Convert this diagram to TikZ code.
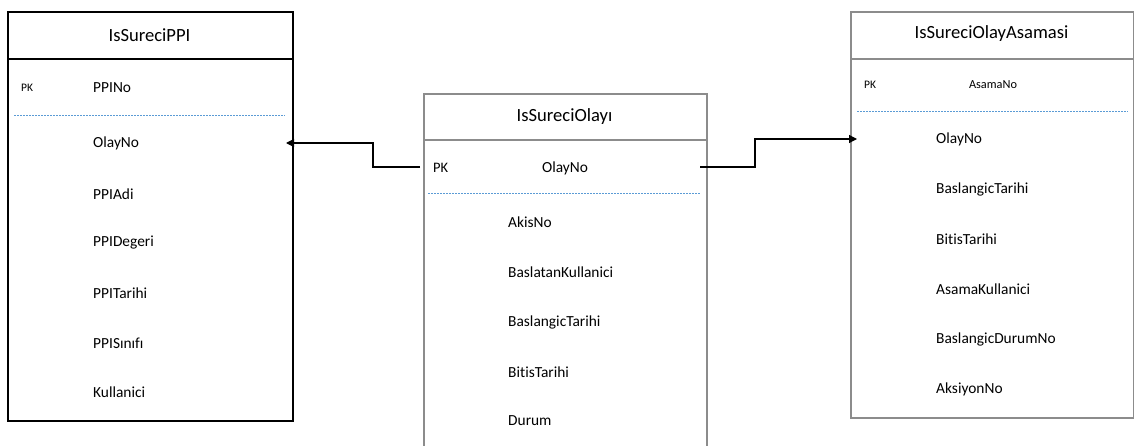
\documentclass[tikz,border=0pt]{standalone}
\usepackage{fontspec}
\setmainfont{Carlito}[Ligatures=NoCommon]
\usetikzlibrary{arrows.meta}
\colorlet{table border color}{black!45}
\definecolor{key line color}{HTML}{5B9BD5}
\tikzset{
    x={1pt},
    y={-1pt},
    table box/.style={
        draw={#1},
        line width={1.8pt},
        inner sep=0pt,
        anchor=north west,
    },
    table box/.default={table border color},
    table rule/.style={
        draw={#1},
        line width={1.8pt},
    },
    table rule/.default={table border color},
    table title/.style={
        font={\fontsize{18.6}{22}\selectfont},
        inner sep=0pt,
    },
    field/.style={
        font={\fontsize{15.4}{18}\selectfont},
        anchor=west,
        inner sep=0pt,
    },
    key mark/.style={
        font={\fontsize{#1}{14}\selectfont},
        anchor=west,
        inner sep=0pt,
    },
    key mark/.default={11.5},
    key line/.style={
        draw=key line color,
        line width={0.9pt},
        dash pattern=on 2pt off 1pt,
    },
    relation/.style={
        draw=black,
        line width={1.2pt},
        -{Triangle[length=8pt,width=8pt]},
    },
}

\begin{document}
\begin{tikzpicture}
\clip (0,0) rectangle (1134,446);
% tables
\node[table box={black}, minimum width=285, minimum height=409] (ppi box) at (7,11) {};
\path[table rule={black}] (7,59) -- (292,59);
\node[table box, minimum width=283, minimum height=380] (olay box) at (423,93) {};
\path[table rule] (423,140) -- (706,140);
\node[table box, minimum width=283, minimum height=406] (asama box) at (850,11) {};
\path[table rule] (850,59) -- (1133,59);
% key separators
\path[key line] (14,115) -- (285,115);
\path[key line] (428,193) -- (700,193);
\path[key line] (857,111) -- (1128,111);
% IsSureciPPI
\node[table title] (ppi title) at (149.5,35) {IsSureciPPI};
\node[key mark] (ppi pk) at (21,88) {PK};
\node[field] (ppi ppino) at (93,88) {PPINo};
\node[field] (ppi olayno) at (93,143) {OlayNo};
\node[field] (ppi adi) at (93,194) {PPIAdi};
\node[field] (ppi degeri) at (93,243) {PPIDegeri};
\node[field] (ppi tarihi) at (93,293) {PPITarihi};
\node[field] (ppi sinifi) at (93,343) {PPISınıfı};
\node[field] (ppi kullanici) at (93,392) {Kullanici};
% IsSureciOlayı
\node[table title] (olay title) at (564.5,117) {IsSureciOlayı};
\node[key mark={14.5}] (olay pk) at (433,168) {PK};
\node[field, anchor=center] (olay olayno) at (565,168) {OlayNo};
\node[field] (olay akisno) at (508,222) {AkisNo};
\node[field] (olay baslatan) at (508,272) {BaslatanKullanici};
\node[field] (olay baslangic) at (508,322) {BaslangicTarihi};
\node[field] (olay bitis) at (508,372) {BitisTarihi};
\node[field] (olay durum) at (508,421) {Durum};
% IsSureciOlayAsamasi
\node[table title] (asama title) at (991.5,34) {IsSureciOlayAsamasi};
\node[key mark] (asama pk) at (864,85) {PK};
\node[key mark={12.3}, anchor=center] (asama asamano) at (993,85) {AsamaNo};
\node[field] (asama olayno) at (936,139) {OlayNo};
\node[field] (asama baslangic) at (936,189) {BaslangicTarihi};
\node[field] (asama bitis) at (936,239) {BitisTarihi};
\node[field] (asama kullanici) at (936,289) {AsamaKullanici};
\node[field] (asama durum) at (936,339) {BaslangicDurumNo};
\node[field] (asama aksiyon) at (936,389) {AksiyonNo};
% relations
\coordinate (olay key left) at (420,167);
\coordinate (olay key right) at (700,167);
\coordinate (ppi olay tip) at (286,143);
\coordinate (asama olay tip) at (857,139);
\draw[relation] (olay key left) -- ++(-47,0) |- (ppi olay tip);
\draw[relation] (olay key right) -- ++(55,0) |- (asama olay tip);
\end{tikzpicture}
\end{document}
